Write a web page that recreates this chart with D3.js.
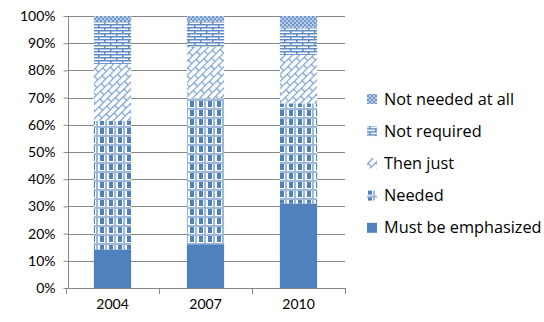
<!DOCTYPE html>
<html><head><meta charset="utf-8">
<script src="https://cdn.jsdelivr.net/npm/d3@7"></script>
<style>body{margin:0;background:#fff}svg{display:block}</style>
</head><body>
<svg id="c" width="544" height="322"></svg>
<script>
const categories = ["2004", "2007", "2010"];
const seriesNames = ["Must be emphasized", "Needed", "Then just", "Not required", "Not needed at all"];
const mustBeEmphasized = [14.2, 16.1, 31.1];
const needed = [47.3, 53.6, 36.8];
const thenJust = [20.9, 19.0, 17.8];
const notRequired = [15.3, 9.2, 10.0];
const notNeededAtAll = [2.3, 2.1, 4.3];
const yTicks = [0, 10, 20, 30, 40, 50, 60, 70, 80, 90, 100];

const seriesValues = [mustBeEmphasized, needed, thenJust, notRequired, notNeededAtAll];
const rows = categories.map((c, i) => {
  const r = {cat: c};
  seriesNames.forEach((s, j) => r[s] = seriesValues[j][i]);
  return r;
});
const stack = d3.stack().keys(seriesNames)(rows);

const svg = d3.select("#c");
const blue = "#4F81BD";
const defs = svg.append("defs");

function pat(id, w, h, draw, transform) {
  const p = defs.append("pattern").attr("id", id).attr("patternUnits", "userSpaceOnUse")
    .attr("width", w).attr("height", h);
  if (transform) p.attr("patternTransform", transform);
  draw(p);
}
pat("p0", 4, 4, p => { p.append("rect").attr("width", 4).attr("height", 4).attr("fill", blue); });
pat("p1", 9, 9, p => {
  p.append("rect").attr("width", 9).attr("height", 9).attr("fill", "#fff");
  p.append("rect").attr("x", 0).attr("y", 0).attr("width", 9).attr("height", 2).attr("fill", "#9fb9dc");
  p.append("rect").attr("x", 6).attr("y", 0).attr("width", 2).attr("height", 9).attr("fill", "#9fb9dc");
  p.append("rect").attr("x", 1).attr("y", 2).attr("width", 4).attr("height", 6).attr("fill", blue);
});
pat("p2", 12, 10, p => {
  p.append("rect").attr("width", 12).attr("height", 10).attr("fill", "#fff");
  p.append("rect").attr("x", 0).attr("y", 0).attr("width", 12).attr("height", 1.2).attr("fill", "#7a9fd0");
  p.append("rect").attr("x", 0).attr("y", 5).attr("width", 12).attr("height", 1.2).attr("fill", "#7a9fd0");
  p.append("rect").attr("x", 0).attr("y", 0).attr("width", 1.2).attr("height", 5).attr("fill", "#7a9fd0");
  p.append("rect").attr("x", 6).attr("y", 5).attr("width", 1.2).attr("height", 5).attr("fill", "#7a9fd0");
}, "rotate(-45)");
pat("p3", 12, 6, p => {
  p.append("rect").attr("width", 12).attr("height", 6).attr("fill", "#fff");
  p.append("rect").attr("x", 0).attr("y", 0).attr("width", 12).attr("height", 1.5).attr("fill", "#5f8cc6");
  p.append("rect").attr("x", 0).attr("y", 3).attr("width", 12).attr("height", 1.5).attr("fill", "#5f8cc6");
  p.append("rect").attr("x", 2).attr("y", 0).attr("width", 1.5).attr("height", 3).attr("fill", "#5f8cc6");
  p.append("rect").attr("x", 8).attr("y", 3).attr("width", 1.5).attr("height", 3).attr("fill", "#5f8cc6");
});
pat("p4", 4, 4, p => {
  p.append("rect").attr("width", 4).attr("height", 4).attr("fill", "#b8cce6");
  p.append("rect").attr("x", 0).attr("y", 0).attr("width", 2).attr("height", 2).attr("fill", "#6f97cb");
  p.append("rect").attr("x", 2).attr("y", 2).attr("width", 2).attr("height", 2).attr("fill", "#6f97cb");
});
const fills = ["url(#p0)", "url(#p1)", "url(#p2)", "url(#p3)", "url(#p4)"];

const x = d3.scaleBand().domain(categories).range([66, 345]).paddingInner(0.6).paddingOuter(0.3);
const xb = d3.scaleBand().domain(categories).range([66, 345]);
const y = d3.scaleLinear().domain([0, 100]).range([288, 16]);

const font = "Lato, 'Open Sans', sans-serif";

svg.append("g").selectAll("line").data(yTicks.slice(1)).join("line")
  .attr("x1", 68).attr("x2", 345).attr("y1", d => Math.round(y(d)) + 0.5).attr("y2", d => Math.round(y(d)) + 0.5)
  .attr("stroke", "#868686").attr("stroke-width", 1);

svg.append("g").selectAll("g").data(stack).join("g")
  .attr("fill", (d, i) => fills[i])
  .selectAll("rect").data(d => d).join("rect")
  .attr("x", d => x(d.data.cat)).attr("width", x.bandwidth())
  .attr("y", d => y(d[1])).attr("height", d => y(d[0]) - y(d[1]));

const ya = svg.append("g").attr("transform", "translate(68.5,0)")
  .call(d3.axisLeft(y).tickValues(yTicks).tickFormat(d => d + "%").tickSize(5).tickPadding(8));
ya.select(".domain").attr("stroke", "#868686").attr("d", "M0," + y(100) + "V" + y(0));
ya.selectAll(".tick line").attr("stroke", "#868686");
ya.selectAll("text").attr("font-family", font).attr("font-size", 14).attr("fill", "#000");

const xa = svg.append("g").attr("transform", "translate(0," + (Math.round(y(0)) + 0.5) + ")")
  .call(d3.axisBottom(x).tickSize(0).tickPadding(11));
xa.select(".domain").attr("stroke", "#868686").attr("d", "M66,0H345");
xa.selectAll("text").attr("font-family", font).attr("font-size", 14).attr("fill", "#000");
svg.append("g").selectAll("line").data([...categories.map(c => xb(c)), 345]).join("line")
  .attr("x1", d => Math.round(d) + 0.5).attr("x2", d => Math.round(d) + 0.5)
  .attr("y1", 288).attr("y2", 294).attr("stroke", "#868686");

const legendOrder = [4, 3, 2, 1, 0];
const lg = svg.append("g").selectAll("g").data(legendOrder).join("g")
  .attr("transform", (d, i) => "translate(367," + (99 + i * 32.2) + ")");
lg.append("rect").attr("x", 0).attr("y", -5).attr("width", 10).attr("height", 10).attr("fill", d => fills[d]);
lg.append("text").attr("x", 17).attr("y", 5.5).text(d => seriesNames[d])
  .attr("font-family", "'Open Sans', sans-serif").attr("font-size", 16.3).attr("fill", "#000");
</script>
</body></html>
